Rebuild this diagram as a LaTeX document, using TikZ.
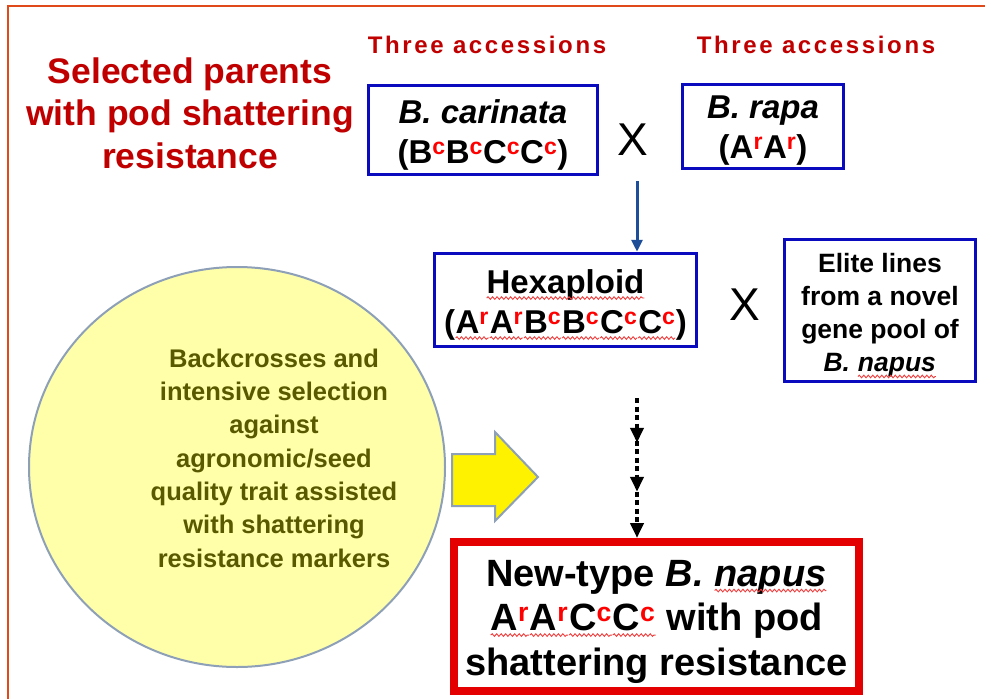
\documentclass[tikz,border=0pt]{standalone}
\usepackage{fontspec}
\setmainfont{Liberation Sans}
\usetikzlibrary{arrows.meta,decorations.markings,decorations.pathmorphing,shapes.geometric}
\definecolor{framecol}{RGB}{224,74,26}
\definecolor{darkredtxt}{RGB}{192,0,0}
\definecolor{boxblue}{RGB}{10,10,190}
\definecolor{arrowblue}{RGB}{31,78,153}
\definecolor{ellolive}{RGB}{89,89,0}
\definecolor{paleyellow}{RGB}{255,255,170}
\definecolor{greyblue}{RGB}{142,160,184}
\definecolor{boxred}{RGB}{228,0,0}
\definecolor{wavered}{RGB}{240,60,60}
\newcommand\rsp[1]{\textcolor{red}{\textsuperscript{#1}}}
\newcommand\rw[1]{\tikz[baseline=(w.base)]{\node[inner sep=0,outer sep=0,anchor=base](w) at (0,0) {#1};
  \draw[wavered, line width=0.9, decorate, decoration={snake, amplitude=1.3, segment length=4.5}]
    ([yshift=-4.5pt]w.base west) -- ([yshift=-4.5pt]w.base east);}}
\begin{document}
\begin{tikzpicture}[x=1pt,y=-1pt,
  bluebox/.style={draw=boxblue, line width=3.5, fill=white, inner sep=0},
  redbox/.style={draw=boxred, line width=8, fill=white, inner sep=0},
  boxtext/.style={align=center, inner sep=0, font=\fontsize{33}{40}\selectfont\bfseries},
  bigtext/.style={align=center, inner sep=0, font=\fontsize{38}{44.5}\selectfont\bfseries},
  ptitle/.style={text=darkredtxt, align=center, inner sep=0,
     font=\fontsize{35.5}{42.5}\selectfont\bfseries},
  acc/.style={text=darkredtxt, inner sep=0,
     font=\fontsize{24}{26}\selectfont\bfseries\addfontfeature{LetterSpace=11}},
  xsign/.style={inner sep=0, font=\fontsize{46}{46}\selectfont},
  elltext/.style={text=ellolive, align=center, inner sep=0,
     font=\fontsize{25.5}{33.3}\selectfont\bfseries},
  blobfill/.style={ellipse, draw=greyblue, line width=2, fill=paleyellow, inner sep=0},
  bigarrow/.style={draw=greyblue, line width=2, fill=yellow},
  bluearrow/.style={draw=arrowblue, line width=3, -{Triangle[width=11,length=12]}},
  dotarrow/.style={draw=black, line width=4.5, dash pattern=on 5 off 3.5,
     postaction={decorate, decoration={markings,
       mark=at position 0.32 with {\arrow{Triangle[width=13,length=15]}},
       mark=at position 0.67 with {\arrow{Triangle[width=13,length=15]}}}},
     -{Triangle[width=13,length=15]}}
]
\useasboundingbox (0,0) rectangle (985,699);
\fill[white] (0,0) rectangle (985,699);
% frame
\draw[framecol, line width=2] (8,699) -- (8,6) -- (985,6);

% titles
\node[ptitle] (title) at (190,113) {Selected parents\\with pod shattering\\resistance};
\node[acc] (acc1) at (487,45) {Three accessions};
\node[acc] (acc2) at (816,45) {Three accessions};

% parents
\node[bluebox, minimum width=229, minimum height=89] (car) at (483,130) {};
\node[boxtext] (cartxt) at (483,134.5) {\textit{B. carinata}\\(B\rsp{c}B\rsp{c}C\rsp{c}C\rsp{c})};
\node[xsign] (x1) at (633,140) {X};
\node[bluebox, minimum width=161, minimum height=84] (rapa) at (763,126.5) {};
\node[boxtext] (rapatxt) at (763,131) {\textit{B. rapa}\\(A\rsp{r}A\rsp{r})};

% hexaploid
\node[bluebox, minimum width=262, minimum height=93] (hex) at (565.5,300) {};
\node[boxtext] (hextxt) at (565.5,305)
  {\rw{Hexaploid}\\(\rw{A\rsp{r}}\rw{A\rsp{r}}\rw{B\rsp{c}}\rw{B\rsp{c}}\rw{C\rsp{c}}\rw{C\rsp{c}})};
\node[xsign] (x2) at (745,305) {X};
\node[bluebox, minimum width=191, minimum height=142] (elite) at (880,310.5) {};
\node[boxtext, font=\fontsize{26.5}{33}\selectfont\bfseries] (elitetxt) at (880,316)
  {Elite lines\\from a novel\\gene pool of\\\textit{B. \rw{napus}}};

% ellipse
\node[blobfill, minimum width=416, minimum height=400] (blob) at (237,467) {};
\node[elltext] (blobtxt) at (274,458)
  {Backcrosses and\\intensive selection\\against\\agronomic/seed\\quality trait assisted\\with shattering\\resistance markers};

% yellow block arrow
\draw[bigarrow] (452,454) -- (495,454) -- (495,432) -- (538,477) -- (495,521) -- (495,506) -- (452,506) -- cycle;

% result
\node[redbox, minimum width=405, minimum height=149] (newt) at (656.5,616.5) {};
\node[bigtext] (newttxt) at (656.5,621.5)
  {New-type \textit{B. \rw{napus}}\\\rw{A\rsp{r}}\rw{A\rsp{r}}\rw{C\rsp{c}}\rw{C\rsp{c}} with pod\\shattering resistance};

% connectors
\coordinate (a1) at (637,181);
\draw[bluearrow] (a1) -- (a1 |- hex.north);
\coordinate (d0) at (637,398);
\draw[dotarrow] (d0) -- (d0 |- newt.north);
\end{tikzpicture}
\end{document}
